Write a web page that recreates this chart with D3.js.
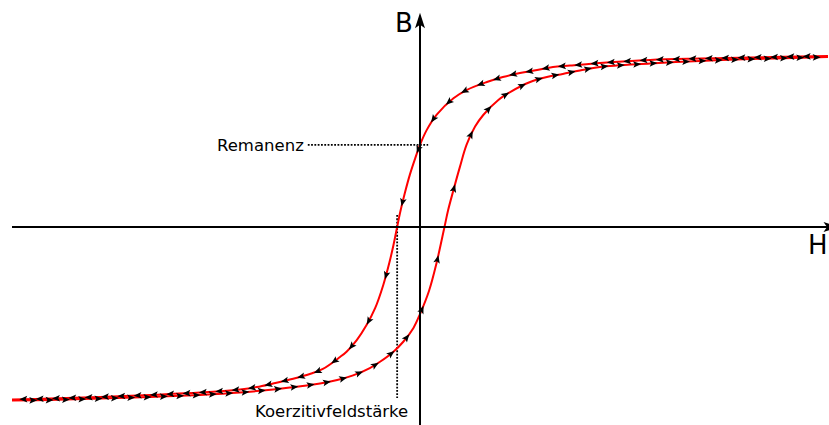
<!DOCTYPE html>
<html lang="de">
<head>
<meta charset="utf-8">
<title>Hystereseschleife</title>
<script src="https://cdn.jsdelivr.net/npm/d3@7"></script>
<style>
  html, body { margin: 0; padding: 0; background: #fff; }
  svg { display: block; }
  text { font-family: "DejaVu Sans", sans-serif; fill: #000; }
</style>
</head>
<body>
<svg id="chart" width="829" height="425"></svg>
<script>
// Descending branch (field decreasing from +Hmax to -Hmax), listed by ascending H
const upperH = [-10, -9.07, -7.84, -6.62, -5.39, -4.41, -4.00, -3.60, -3.19, -2.70,
                -2.38, -1.96, -1.80, -1.55, -1.31, -1.10, -0.90, -0.75, -0.65, -0.56,
                -0.49, -0.37, -0.25, -0.12, 0, 0.16, 0.41, 0.82, 1.14, 1.64,
                2.03, 2.45, 2.87, 3.26, 3.68, 4.41, 5.64, 6.86, 8.09, 10];
const upperB = [-1.009, -1.003, -0.994, -0.982, -0.968, -0.950, -0.936, -0.915, -0.892, -0.860,
                -0.830, -0.760, -0.729, -0.661, -0.573, -0.475, -0.339, -0.208, -0.105, 0,
                0.082, 0.200, 0.305, 0.400, 0.48, 0.565, 0.657, 0.753, 0.801, 0.848,
                0.877, 0.901, 0.918, 0.936, 0.944, 0.959, 0.977, 0.985, 0.991, 1.0];

// Ascending branch (field increasing from -Hmax to +Hmax)
const lowerH = [-10, -9.07, -7.84, -6.62, -5.39, -4.41, -3.60, -3.19, -2.45, -2.03,
                -1.64, -1.23, -0.98, -0.65, -0.41, -0.16, 0, 0.22, 0.40, 0.60,
                0.69, 0.82, 0.98, 1.14, 1.35, 1.55, 1.92, 2.23, 2.70, 3.11,
                3.50, 3.92, 4.41, 5.64, 6.86, 8.09, 10];
const lowerB = [-1.015, -1.012, -1.003, -0.994, -0.982, -0.968, -0.950, -0.939, -0.915, -0.895,
                -0.868, -0.825, -0.788, -0.729, -0.671, -0.590, -0.509, -0.374, -0.216, 0,
                0.099, 0.216, 0.353, 0.480, 0.587, 0.655, 0.743, 0.792, 0.848, 0.877,
                0.895, 0.915, 0.936, 0.956, 0.971, 0.982, 0.994];

// Characteristic points of the loop
const remanence = 0.48;    // B at H = 0 on the descending branch
const coercivity = 0.56;   // |H| where the descending branch crosses B = 0

// Axis labels and annotations
const axisLabels = { x: "H", y: "B" };
const remanenceLabel = "Remanenz";
const coercivityLabel = "Koerzitivfeldstärke";

// ---------------------------------------------------------------------------
const svg = d3.select("#chart");
const x = d3.scaleLinear().domain([-10, 10]).range([12, 828]);
const y = d3.scaleLinear().domain([-1, 1]).range([398, 56]);

const toPoints = (hs, bs) => hs.map((h, i) => [h, bs[i]]);
const line = d3.line().x(d => x(d[0])).y(d => y(d[1])).curve(d3.curveCatmullRom.alpha(0.5));

// Dotted guide lines
svg.append("line")
  .attr("x1", x(-2.75)).attr("x2", x(0.2))
  .attr("y1", y(remanence)).attr("y2", y(remanence))
  .attr("stroke", "#000").attr("stroke-width", 1.8)
  .attr("stroke-dasharray", "1.8,1.5");
svg.append("line")
  .attr("x1", x(-coercivity)).attr("x2", x(-coercivity))
  .attr("y1", y(0.07)).attr("y2", y(-1.0))
  .attr("stroke", "#000").attr("stroke-width", 1.8)
  .attr("stroke-dasharray", "1.8,1.5");

// Loop branches
const branches = [
  { pts: toPoints(upperH, upperB), dir: -1 },
  { pts: toPoints(lowerH, lowerB), dir: 1 }
];
const branchPaths = branches.map(b =>
  svg.append("path")
    .attr("d", line(b.pts))
    .attr("fill", "none")
    .attr("stroke", "#ff0000")
    .attr("stroke-width", 2)
    .node());

// Axes
const axisColor = "#000";
svg.append("line")
  .attr("x1", x(-10)).attr("x2", x(10.2))
  .attr("y1", y(0)).attr("y2", y(0))
  .attr("stroke", axisColor).attr("stroke-width", 2);
svg.append("line")
  .attr("x1", x(0)).attr("x2", x(0))
  .attr("y1", y(-1.25)).attr("y2", y(1.22))
  .attr("stroke", axisColor).attr("stroke-width", 2);

const axisHead = "M0,0 L-15.5,-5 L-12,0 L-15.5,5 Z";
svg.append("path").attr("d", axisHead).attr("fill", axisColor)
  .attr("transform", `translate(${x(10.27)},${y(0)})`);
svg.append("path").attr("d", axisHead).attr("fill", axisColor)
  .attr("transform", `translate(${x(0)},${y(1.253)}) rotate(-90)`);

// Direction arrows along each branch, at regular steps of H
const arrowHead = "M4.5,0 L-3.5,-3.3 L-1.8,0 L-3.5,3.3 Z";
const arrowStep = 0.4;
const arrowH = d3.range(1, 50).map(k => -10 + k * arrowStep);

branchPaths.forEach((node, i) => {
  const dir = branches[i].dir;
  const total = node.getTotalLength();
  const lengthAtX = px => {
    let lo = 0, hi = total;
    for (let n = 0; n < 40; n++) {
      const mid = (lo + hi) / 2;
      if (node.getPointAtLength(mid).x < px) lo = mid; else hi = mid;
    }
    return (lo + hi) / 2;
  };
  const g = svg.append("g");
  arrowH.forEach(h => {
    const l = Math.max(1, Math.min(total - 1, lengthAtX(x(h)) + dir * 4.5));
    const p = node.getPointAtLength(l);
    const a = node.getPointAtLength(Math.max(0, l - 0.8));
    const b = node.getPointAtLength(Math.min(total, l + 0.8));
    let ang = Math.atan2(b.y - a.y, b.x - a.x) * 180 / Math.PI;
    if (dir < 0) ang += 180;
    g.append("path")
      .attr("d", arrowHead)
      .attr("fill", "#000")
      .attr("transform", `translate(${p.x},${p.y}) rotate(${ang})`);
  });
});

// Labels
svg.append("text").attr("x", 395).attr("y", 32)
  .attr("font-size", 26).text(axisLabels.y);
svg.append("text").attr("x", 808).attr("y", 254)
  .attr("font-size", 26).text(axisLabels.x);
svg.append("text").attr("x", x(-2.75) - 4).attr("y", 150.5)
  .attr("text-anchor", "end").attr("font-size", 16.5).text(remanenceLabel);
svg.append("text").attr("x", 255).attr("y", 417)
  .attr("font-size", 16.5).text(coercivityLabel);
</script>
</body>
</html>
